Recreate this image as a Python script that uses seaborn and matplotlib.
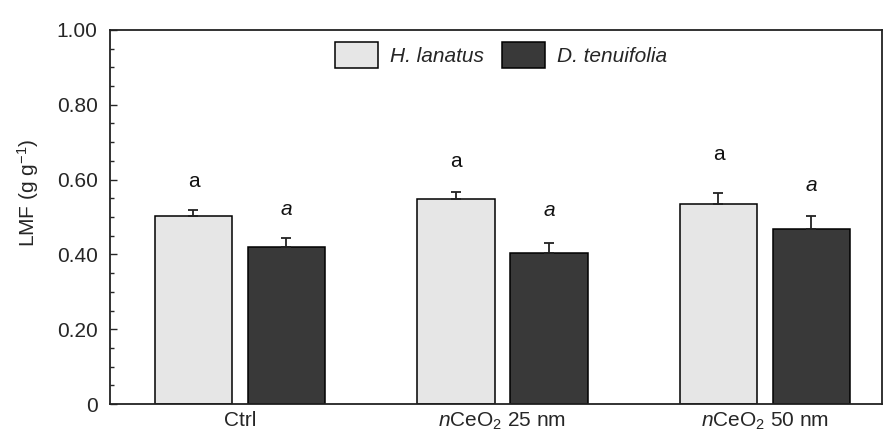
import matplotlib
matplotlib.use("Agg")
import matplotlib.pyplot as plt
import seaborn as sns
import pandas as pd
import numpy as np

# ---- data ----
treatments = ["Ctrl", "$n$CeO$_2$ 25 nm", "$n$CeO$_2$ 50 nm"]
species = ["H. lanatus", "D. tenuifolia"]
lanatus_mean = [0.503, 0.549, 0.534]
lanatus_se = [0.015, 0.019, 0.030]
tenuifolia_mean = [0.419, 0.405, 0.469]
tenuifolia_se = [0.026, 0.026, 0.034]
lanatus_letters = ["a", "a", "a"]
tenuifolia_letters = ["a", "a", "a"]
lanatus_letter_y = [0.594, 0.648, 0.667]
tenuifolia_letter_y = [0.521, 0.518, 0.583]
yticks = [0, 0.2, 0.4, 0.6, 0.8, 1.0]
yticklabels = ["0", "0.20", "0.40", "0.60", "0.80", "1.00"]

df = pd.DataFrame({
    "treatment": treatments * 2,
    "species": [species[0]] * 3 + [species[1]] * 3,
    "LMF": lanatus_mean + tenuifolia_mean,
})

sns.set_theme(style="white")
plt.rcParams["font.family"] = ["Liberation Sans", "DejaVu Sans"]
plt.rcParams["mathtext.fontset"] = "custom"
plt.rcParams["mathtext.rm"] = "Liberation Sans"
plt.rcParams["mathtext.it"] = "Liberation Sans:italic"
plt.rcParams["mathtext.bf"] = "Liberation Sans:bold"

fig = plt.figure(figsize=(8.84, 4.34), dpi=100)
ax = fig.add_axes([110 / 884, 30 / 434, 772 / 884, 374 / 434])

light = "#e6e6e6"
dark = "#393939"
sns.barplot(data=df, x="treatment", y="LMF", hue="species", order=treatments,
            hue_order=species, palette=[light, dark], errorbar=None,
            width=0.708, gap=0.167, edgecolor="black", linewidth=1.1,
            saturation=1, ax=ax)

# error bars and letters from the bar patches
bars = [p for p in ax.patches if p.get_height() > 0][:6]
bars_sorted = sorted(bars, key=lambda p: p.get_x())
errs = []
letters = []
ly = []
for i in range(3):
    errs += [lanatus_se[i], tenuifolia_se[i]]
    letters += [(lanatus_letters[i], "normal"), (tenuifolia_letters[i], "italic")]
    ly += [lanatus_letter_y[i], tenuifolia_letter_y[i]]
for p, e, (lt, st), yy in zip(bars_sorted, errs, letters, ly):
    xc = p.get_x() + p.get_width() / 2
    h = p.get_height()
    ax.errorbar([xc], [h], yerr=[[0], [e]], fmt="none", ecolor="#222222",
                elinewidth=1.3, capsize=3.5, capthick=1.3, zorder=3)
    ax.text(xc, yy, lt, ha="center", va="center", fontsize=15, style=st,
            color="#111111")

ax.set_xlim(-0.495, 2.446)
ax.set_ylim(0, 1.0)
ax.set_yticks(yticks)
ax.set_yticklabels(yticklabels)
ax.set_yticks(np.arange(0, 1.0001, 0.05), minor=True)
ax.tick_params(axis="y", which="major", direction="in", length=5, width=1,
               labelsize=15, pad=9, left=True)
ax.tick_params(axis="y", which="minor", direction="in", length=3, width=1,
               left=True)
ax.tick_params(axis="x", which="both", length=0, labelsize=15, pad=5)
ax.set_xlabel("")
ax.set_ylabel("LMF (g g$^{-1}$)", fontsize=15)
ax.yaxis.set_label_coords(-0.09, 0.565)
for s in ax.spines.values():
    s.set_visible(True)
    s.set_color("#222222")
    s.set_linewidth(1.3)

handles, labels = ax.get_legend_handles_labels()
ax.legend(handles, labels, loc="center", bbox_to_anchor=(501 / 884, 1 - 55 / 434),
          bbox_transform=fig.transFigure, ncol=2, frameon=False,
          prop={"style": "italic", "size": 15}, handlelength=2.07,
          handleheight=1.6, handletextpad=0.55, columnspacing=0.9)

fig.savefig("out.png", dpi=100)
